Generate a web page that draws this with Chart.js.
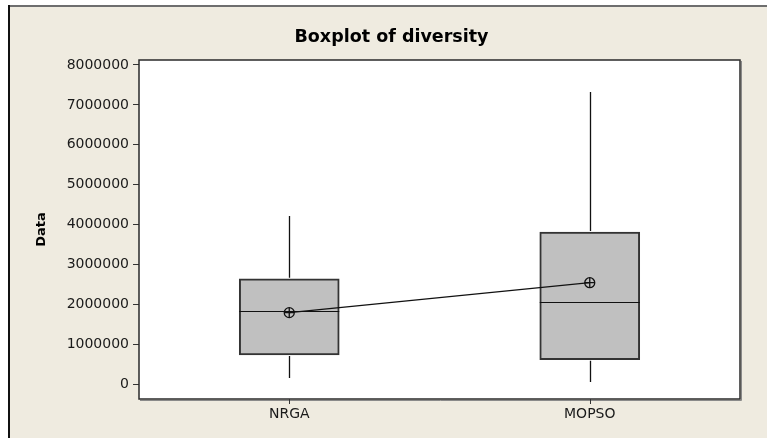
<!DOCTYPE html>
<html>
<head>
<meta charset="utf-8">
<script src="https://cdn.jsdelivr.net/npm/chart.js@4"></script>
<style>
  html, body { margin: 0; padding: 0; background: #ffffff; }
  #c { display: block; }
</style>
</head>
<body>
<canvas id="c" width="767" height="438"></canvas>
<script>
// ---- data ----
const categories = ['NRGA', 'MOPSO'];
const whiskerLow  = [150000, 50000];
const q1          = [730000, 610000];
const median      = [1830000, 2050000];
const q3          = [2640000, 3810000];
const whiskerHigh = [4210000, 7320000];
const means       = [1790000, 2540000];
const yTicks = [0, 1000000, 2000000, 3000000, 4000000, 5000000, 6000000, 7000000, 8000000];
const yRange = [-376000, 8125000];
const xRange = [0.5, 2.5];

const BEIGE = '#EFEBE0';
const FONT = '"DejaVu Sans", Verdana, sans-serif';

const panelPlugin = {
  id: 'panel',
  beforeDraw(chart) {
    const ctx = chart.ctx;
    const W = chart.width, H = chart.height;
    ctx.save();
    ctx.fillStyle = '#ffffff';
    ctx.fillRect(0, 0, W, H);
    ctx.fillStyle = BEIGE;
    ctx.fillRect(8, 5, W - 8, H - 5);
    ctx.strokeStyle = '#6e6e6e';
    ctx.lineWidth = 2;
    ctx.beginPath(); ctx.moveTo(8, 6); ctx.lineTo(W, 6); ctx.stroke();
    ctx.strokeStyle = '#111111';
    ctx.beginPath(); ctx.moveTo(9, 5); ctx.lineTo(9, H); ctx.stroke();
    const a = chart.chartArea;
    ctx.fillStyle = '#ffffff';
    ctx.fillRect(a.left, a.top, a.right - a.left, a.bottom - a.top);
    ctx.restore();
  },
  afterDatasetDraw(chart, args) {
    if (args.index !== 2) return;
    const ctx = chart.ctx;
    const ys = chart.scales.y;
    const meta = chart.getDatasetMeta(2);
    ctx.save();
    ctx.strokeStyle = '#111111';
    ctx.lineWidth = 1.3;
    meta.data.forEach((bar, i) => {
      const x = Math.round(bar.x) + 0.5;
      const half = bar.width / 2;
      ctx.beginPath();
      ctx.moveTo(x, ys.getPixelForValue(whiskerHigh[i]));
      ctx.lineTo(x, ys.getPixelForValue(q3[i]) - 1);
      ctx.moveTo(x, ys.getPixelForValue(q1[i]) + 1);
      ctx.lineTo(x, ys.getPixelForValue(whiskerLow[i]));
      ctx.stroke();
      const my = Math.round(ys.getPixelForValue(median[i])) + 0.5;
      ctx.lineWidth = 1.2;
      ctx.beginPath();
      ctx.moveTo(bar.x - half, my);
      ctx.lineTo(bar.x + half, my);
      ctx.stroke();
      ctx.lineWidth = 1.3;
    });
    ctx.restore();
  },
  afterDatasetsDraw(chart) {
    const ctx = chart.ctx;
    const a = chart.chartArea;
    const xs = chart.scales.x;
    ctx.save();
    ctx.strokeStyle = '#2a2a2a';
    ctx.lineWidth = 1.5;
    ctx.strokeRect(a.left, a.top, a.right - a.left, a.bottom - a.top);
    ctx.strokeStyle = '#8a8a8a';
    ctx.lineWidth = 1;
    ctx.beginPath();
    ctx.moveTo(a.right + 1.5, a.top + 1); ctx.lineTo(a.right + 1.5, a.bottom + 1.5);
    ctx.lineTo(a.left + 1, a.bottom + 1.5);
    ctx.stroke();
    // x-axis tick marks at the category positions
    ctx.strokeStyle = '#333333';
    ctx.lineWidth = 1;
    ctx.beginPath();
    xs.ticks.forEach((t, i) => {
      const px = Math.round(xs.getPixelForTick(i)) + 0.5;
      ctx.moveTo(px, a.bottom);
      ctx.lineTo(px, a.bottom + 5);
    });
    ctx.stroke();
    ctx.restore();
  }
};

new Chart(document.getElementById('c'), {
  data: {
    datasets: [
      {
        type: 'line',
        order: 1,
        data: categories.map((c, i) => ({ x: i + 1, y: means[i] })),
        borderColor: '#111111',
        borderWidth: 1.2,
        pointStyle: 'circle',
        pointRadius: 5,
        pointBorderWidth: 1.3,
        pointBorderColor: '#111111',
        pointBackgroundColor: 'rgba(0,0,0,0)',
        fill: false
      },
      {
        type: 'line',
        order: 0,
        showLine: false,
        data: categories.map((c, i) => ({ x: i + 1, y: means[i] })),
        pointStyle: 'cross',
        pointRadius: 5,
        pointBorderWidth: 1.3,
        pointBorderColor: '#111111'
      },
      {
        type: 'bar',
        order: 3,
        data: categories.map((c, i) => ({ x: i + 1, y: [q1[i], q3[i]] })),
        backgroundColor: '#C0C0C0',
        borderColor: '#333333',
        borderWidth: 2,
        borderSkipped: false,
        barThickness: 100
      }
    ]
  },
  options: {
    responsive: false,
    animation: false,
    events: [],
    layout: { padding: { left: 16, right: 0, top: 0, bottom: 0 } },
    plugins: {
      legend: { display: false },
      tooltip: { enabled: false },
      title: {
        display: true,
        text: 'Boxplot of diversity',
        color: '#000000',
        font: { family: FONT, size: 17.5, weight: 'bold', lineHeight: 1.2 },
        padding: { top: 27, bottom: 12 }
      }
    },
    scales: {
      x: {
        type: 'linear',
        min: xRange[0],
        max: xRange[1],
        offset: false,
        afterBuildTicks: (s) => { s.ticks = categories.map((c, i) => ({ value: i + 1 })); },
        afterFit: (s) => { s.height = 39; },
        grid: { display: false, offset: false, drawOnChartArea: false, drawTicks: true, tickLength: 6 },
        border: { display: false },
        ticks: {
          color: '#1a1a1a',
          padding: 1,
          font: { family: FONT, size: 14 },
          callback: (v, idx) => categories[idx]
        }
      },
      y: {
        type: 'linear',
        position: 'left',
        min: yRange[0],
        max: yRange[1],
        afterBuildTicks: (s) => { s.ticks = yTicks.map(v => ({ value: v })); },
        afterFit: (s) => { s.width = 123; },
        grid: { drawOnChartArea: false, drawTicks: true, tickLength: 6, color: '#333333' },
        border: { display: false },
        ticks: {
          color: '#1a1a1a',
          padding: 4,
          font: { family: FONT, size: 14 },
          callback: (v) => String(v)
        },
        title: {
          display: true,
          text: 'Data',
          color: '#000000',
          font: { family: FONT, size: 13, weight: 'bold', lineHeight: 1.2 },
          padding: { top: 18, bottom: 0 }
        }
      },
      y2: {
        type: 'linear',
        position: 'right',
        display: true,
        afterFit: (s) => { s.width = 27; },
        grid: { display: false },
        border: { display: false },
        ticks: { display: false }
      }
    }
  },
  plugins: [panelPlugin]
});
</script>
</body>
</html>
